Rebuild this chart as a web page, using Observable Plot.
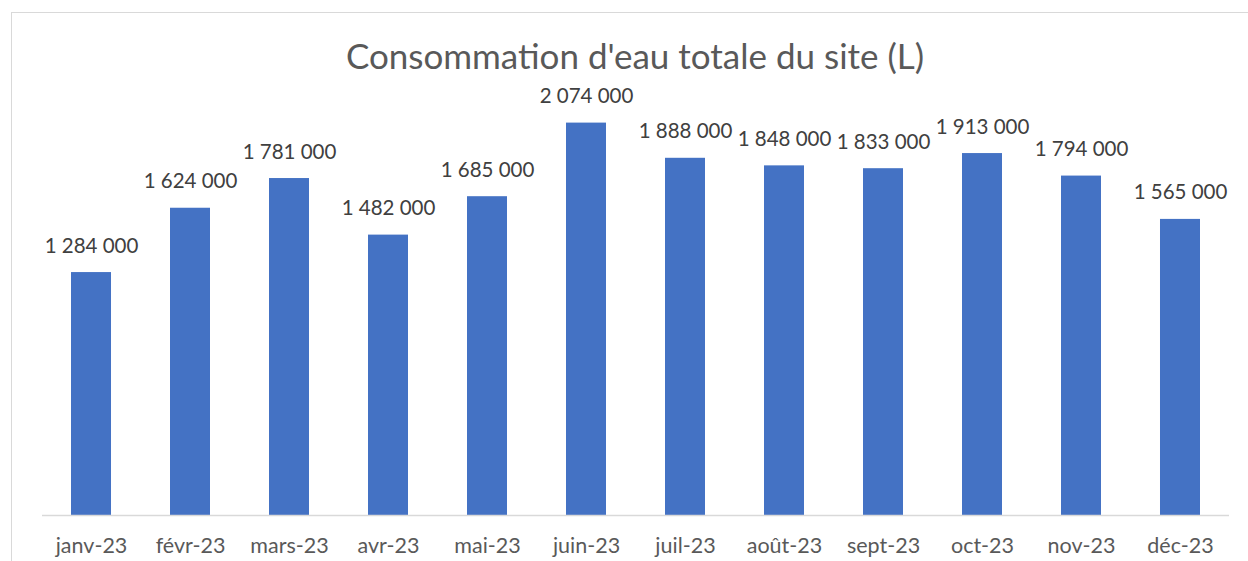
<!DOCTYPE html>
<html><head><meta charset="utf-8">
<script src="https://cdn.jsdelivr.net/npm/d3@7"></script>
<script src="https://cdn.jsdelivr.net/npm/@observablehq/plot@0.6"></script>
<style>
html,body{margin:0;padding:0;background:#fff;width:1248px;height:561px;overflow:hidden;}
#wrap{position:relative;width:1248px;height:561px;}
#frame{position:absolute;left:11px;top:12px;width:1300px;height:600px;border:1px solid #d9d9d9;box-sizing:border-box;}
#title{position:absolute;left:0;top:34px;width:1270px;text-align:center;font-family:Lato,"Open Sans",sans-serif;font-size:35px;color:#595959;}
#chart{position:absolute;left:0;top:0;}
</style></head>
<body><div id="wrap"><div id="frame"></div><div id="chart"></div><div id="title">Consommation d'eau totale du site (L)</div></div>
<script>
const months = ["janv-23","févr-23","mars-23","avr-23","mai-23","juin-23","juil-23","août-23","sept-23","oct-23","nov-23","déc-23"];
const values = [1284000,1624000,1781000,1482000,1685000,2074000,1888000,1848000,1833000,1913000,1794000,1565000];
const data = months.map((m,i)=>({month:m, value:values[i]}));
const fmt = v => d3.format(",")(v).replace(/,/g, " ");
const chart = Plot.plot({
  width:1248, height:561,
  marginLeft:42, marginRight:19, marginTop:42, marginBottom:46,
  style:{fontFamily:"Lato, 'Open Sans', sans-serif", background:"transparent"},
  x:{domain:months, round:false, paddingInner:0.596, paddingOuter:0.293, label:null},
  y:{domain:[0,2500000], axis:null},
  marks:[
    Plot.barY(data,{x:"month", y:"value", fill:"#4472C4"}),
    Plot.ruleY([0],{stroke:"#d9d9d9", strokeWidth:1.5}),
    Plot.text(data,{x:"month", y:"value", text:d=>fmt(d.value), dy:-20, lineAnchor:"bottom", fill:"#404040", fontSize:20.5}),
    Plot.axisX({domain:months, tickSize:0, tickPadding:22, fontSize:21.5, fill:"#595959", label:null})
  ]
});
document.getElementById("chart").appendChild(chart);
</script></body></html>
